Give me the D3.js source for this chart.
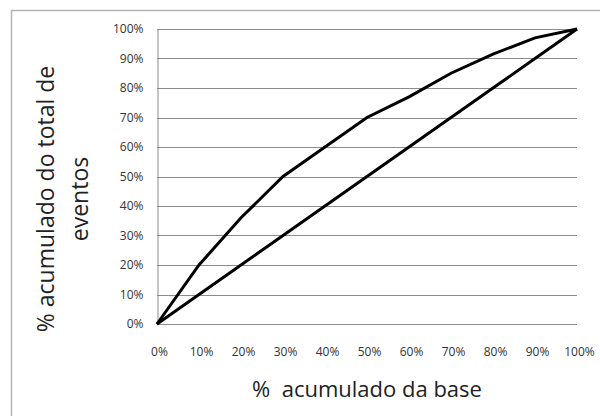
<!DOCTYPE html>
<html>
<head>
<meta charset="utf-8">
<script src="https://cdn.jsdelivr.net/npm/d3@7"></script>
<style>
body { margin: 0; background: #fff; }
svg text { font-family: "Open Sans", sans-serif; }
</style>
</head>
<body>
<div id="chart"></div>
<script>
// cumulative share of base (x) and of events (y)
var basePct = [0, 10, 20, 30, 40, 50, 60, 70, 80, 90, 100];
var randomPct = [0, 10, 20, 30, 40, 50, 60, 70, 80, 90, 100];
var modelPct = [0, 20, 36, 50, 60, 70, 77, 85, 91.5, 97, 100];
var yTicks = [0, 10, 20, 30, 40, 50, 60, 70, 80, 90, 100];
var xTicks = [0, 10, 20, 30, 40, 50, 60, 70, 80, 90, 100];

var width = 600, height = 416;
var margin = {top: 29, right: 23, bottom: 92, left: 157};

var svg = d3.select("#chart")
	.append("svg")
	.attr("width", width)
	.attr("height", height);

// outer chart frame (only top and left are inside the picture)
svg.append("rect")
	.attr("x", 11.5).attr("y", 10.5)
	.attr("width", 620).attr("height", 440)
	.style("fill", "none")
	.style("stroke", "#b4b4b4")
	.style("stroke-width", 1.5);

var xScale = d3.scaleLinear().domain([0, 100]).range([margin.left, width - margin.right]);
var yScale = d3.scaleLinear().domain([0, 100]).range([height - margin.bottom, margin.top]);

// horizontal grid lines
svg.selectAll(".grid")
	.data(yTicks)
	.enter()
	.append("line")
	.attr("class", "grid")
	.attr("x1", xScale(0)).attr("x2", xScale(100))
	.attr("y1", function(d) { return Math.round(yScale(d)) + 0.5; })
	.attr("y2", function(d) { return Math.round(yScale(d)) + 0.5; })
	.style("stroke", "#8c8c8c")
	.style("stroke-width", 1);

// y axis
var yAxis = svg.append("g")
	.attr("transform", "translate(" + (Math.round(xScale(0)) + 0.5) + ",0)")
	.call(d3.axisLeft(yScale).tickValues(yTicks).tickSize(0).tickPadding(14)
		.tickFormat(function(d) { return d + "%"; }));
yAxis.select(".domain").style("stroke", "#8c8c8c");
yAxis.selectAll("text")
	.style("font-size", "12px")
	.style("fill", "#333");

// x axis labels (no axis line of its own)
var xAxis = svg.append("g")
	.attr("transform", "translate(0," + yScale(0) + ")")
	.call(d3.axisBottom(xScale).tickValues(xTicks).tickSize(0).tickPadding(23)
		.tickFormat(function(d) { return d + "%"; }));
xAxis.select(".domain").remove();
xAxis.selectAll("text")
	.style("font-size", "12px")
	.style("fill", "#333")
	.attr("dx", 2);

var line = d3.line()
	.x(function(d) { return xScale(d[0]); })
	.y(function(d) { return yScale(d[1]); });

[randomPct, modelPct].forEach(function(series) {
	svg.append("path")
		.datum(basePct.map(function(b, i) { return [b, series[i]]; }))
		.attr("d", line)
		.style("fill", "none")
		.style("stroke", "#000")
		.style("stroke-width", 3)
		.style("stroke-linejoin", "miter");
});

// axis titles
svg.append("text")
	.attr("x", (xScale(0) + xScale(100)) / 2)
	.attr("y", 397)
	.attr("text-anchor", "middle")
	.style("font-size", "22px")
	.style("fill", "#222")
	.attr("xml:space", "preserve")
	.text("%  acumulado da base");

var yTitle = svg.append("text")
	.attr("transform", "translate(0,199) rotate(-90)")
	.attr("text-anchor", "middle")
	.style("font-size", "23px")
	.style("fill", "#222");
yTitle.append("tspan").attr("x", 0).attr("y", 54).text("% acumulado do total de");
yTitle.append("tspan").attr("x", 0).attr("y", 88).text("eventos");
</script>
</body>
</html>
